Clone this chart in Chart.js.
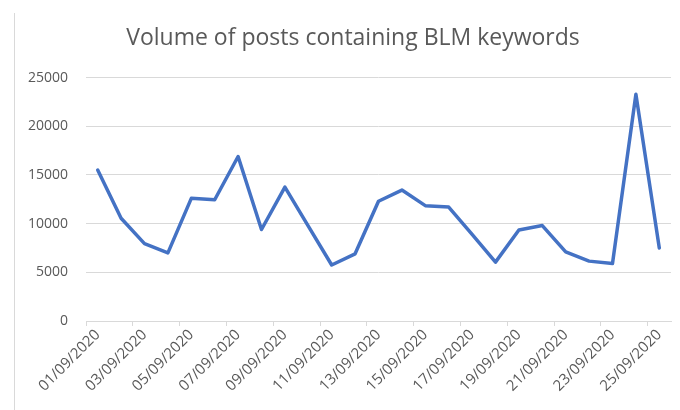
<!DOCTYPE html>
<html lang="en">
<head>
    <meta charset="UTF-8">
    <title>Volume of posts containing BLM keywords</title>
    <script src="https://cdn.jsdelivr.net/npm/chart.js@4.4.1/dist/chart.umd.min.js"></script>
    <style>
        html, body { margin: 0; padding: 0; background: #fff; overflow: hidden; }
        .chart-box { position: absolute; left: 14px; top: 13px; width: 676px; height: 397px; border-left: 1px solid #d9d9d9; }
    </style>
</head>
<body>
    <div class="chart-box">
        <canvas id="blmChart"></canvas>
    </div>

    <script>
        // daily dates (x categories)
        const dates = [
            '01/09/2020', '02/09/2020', '03/09/2020', '04/09/2020', '05/09/2020',
            '06/09/2020', '07/09/2020', '08/09/2020', '09/09/2020', '10/09/2020',
            '11/09/2020', '12/09/2020', '13/09/2020', '14/09/2020', '15/09/2020',
            '16/09/2020', '17/09/2020', '18/09/2020', '19/09/2020', '20/09/2020',
            '21/09/2020', '22/09/2020', '23/09/2020', '24/09/2020', '25/09/2020'
        ];
        // posts per day
        const postCounts = [
            15500, 10550, 7950, 7000, 12600,
            12450, 16900, 9400, 13750, 9750,
            5750, 6900, 12300, 13450, 11850,
            11700, 8900, 6050, 9350, 9800,
            7100, 6150, 5900, 23300, 7500
        ];
        const yMin = 0;
        const yMax = 25000;
        const yStep = 5000;

        const textColor = '#595959';
        const gridColor = '#d9d9d9';
        const fontFamily = "'Open Sans', sans-serif";

        const config = {
            type: 'line',
            data: {
                labels: dates,
                datasets: [{
                    label: 'Posts',
                    data: postCounts,
                    borderColor: '#4472c4',
                    borderWidth: 3.5,
                    borderJoinStyle: 'round',
                    borderCapStyle: 'round',
                    pointRadius: 0,
                    tension: 0,
                    fill: false
                }]
            },
            options: {
                responsive: true,
                maintainAspectRatio: false,
                animation: false,
                layout: { padding: 0 },
                scales: {
                    x: {
                        offset: true,
                        border: { color: gridColor, width: 1 },
                        grid: {
                            offset: true,
                            drawOnChartArea: false,
                            drawTicks: true,
                            tickLength: 5,
                            // tick marks every second day
                            color: (ctx) => (ctx.index % 2 === 0 ? gridColor : 'rgba(0,0,0,0)')
                        },
                        ticks: {
                            autoSkip: false,
                            minRotation: 45,
                            maxRotation: 45,
                            color: textColor,
                            font: { family: fontFamily, size: 15 },
                            padding: 0,
                            callback: function (val, i) {
                                return i % 2 === 0 ? this.getLabelForValue(val) : '';
                            }
                        },
                        afterFit: (scale) => { scale.height = 89; }
                    },
                    y: {
                        min: yMin,
                        max: yMax,
                        border: { display: false },
                        grid: { color: gridColor, drawTicks: false },
                        ticks: {
                            stepSize: yStep,
                            color: textColor,
                            font: { family: fontFamily, size: 14 },
                            padding: 18,
                            callback: (v) => String(v)
                        },
                        afterFit: (scale) => { scale.width = 71; }
                    },
                    // empty right-hand gutter so the title stays centred on the whole chart
                    gutter: {
                        position: 'right',
                        display: true,
                        grid: { display: false },
                        border: { display: false },
                        ticks: { display: false },
                        afterFit: (scale) => { scale.width = 20; }
                    }
                },
                plugins: {
                    legend: { display: false },
                    tooltip: { enabled: false },
                    title: {
                        display: true,
                        text: 'Volume of posts containing BLM keywords',
                        color: textColor,
                        font: { family: fontFamily, size: 23, weight: 'normal' },
                        padding: { top: 12, bottom: 25 }
                    }
                }
            }
        };

        new Chart(document.getElementById('blmChart').getContext('2d'), config);
    </script>
</body>
</html>
